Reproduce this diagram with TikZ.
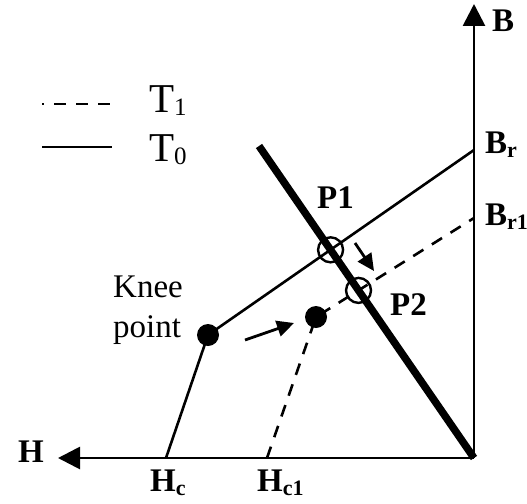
\documentclass[tikz,border=0pt]{standalone}
\usepackage{fontspec}
\setmainfont{Liberation Serif}
\usetikzlibrary{arrows.meta}
\newcommand{\lsub}[1]{\raisebox{-4pt}{\fontsize{22}{22}\selectfont #1}}
\newcommand{\tsub}[1]{\raisebox{-3pt}{\fontsize{25}{25}\selectfont #1}}
\tikzset{
  lab/.style={font=\fontsize{33}{34}\selectfont\bfseries, inner sep=0pt, anchor=base west},
  leg/.style={font=\fontsize{41}{42}\selectfont, inner sep=0pt, anchor=base west},
  thinline/.style={line width=2.6pt},
  dashline/.style={line width=2.6pt, dash pattern=on 12pt off 10pt},
  axis/.style={line width=2.8pt, -{Triangle[length=22pt,width=22pt]}},
  shiftarr/.style={line width=2.8pt, -{Triangle[length=17pt,width=16pt]}},
  kneedot/.style={circle, fill, inner sep=0pt, minimum size=22pt},
  opring/.style={circle, draw, line width=2.4pt, inner sep=0pt, minimum size=25pt},
}
\begin{document}
\begin{tikzpicture}[x=1pt,y=-1pt]
\useasboundingbox (0,0) rectangle (527,503);
% punti
\coordinate (O) at (474,458);
\coordinate (Btop) at (474,4);
\coordinate (Hend) at (58,458);
\coordinate (Br) at (474,150);
\coordinate (Br1) at (474,218);
\coordinate (Hc) at (166,458);
\coordinate (Hc1) at (267,458);
\coordinate (k0) at (208,335);
\coordinate (k1) at (316,317);
\coordinate (L1) at (259,146);
% assi
\draw[axis] (O) -- (Btop);
\draw[axis] (O) -- (Hend);
\node[lab] (B) at (492,32) {B};
\node[lab] (H) at (18,462) {H};
\node[lab] (lHc) at (150,491) {H\lsub{c}};
\node[lab] (lHc1) at (257,491) {H\lsub{c1}};
\node[lab] (lBr) at (485,153) {B\lsub{r}};
\node[lab] (lBr1) at (485,225) {B\lsub{r1}};
% curve T0 e T1
\draw[thinline] (Hc) -- (k0) -- (Br);
\draw[dashline] (Hc1) -- (k1) -- (Br1);
\node[kneedot] (K0) at (k0) {};
\node[kneedot] (K1) at (k1) {};
\node[font=\fontsize{33}{40}\selectfont, align=left, inner sep=0pt, anchor=west] (kt) at (113,310) {Knee\\point};
% retta di carico
\draw[line width=7.5pt] (L1) -- (O);
\coordinate (P1) at (intersection of L1--O and k0--Br);
\coordinate (P2) at (intersection of L1--O and k1--Br1);
\node[opring] (C1) at (P1) {};
\node[opring] (C2) at (P2) {};
\node[lab] (lP1) at (317,208) {P1};
\node[lab] (lP2) at (390,315) {P2};
% spostamenti
\coordinate (a1) at (355,243);
\coordinate (a2) at (374,271);
\coordinate (b1) at (245,340);
\coordinate (b2) at (294,323);
\draw[shiftarr] (a1) -- (a2);
\draw[shiftarr] (b1) -- (b2);
% legenda
\coordinate (d1) at (42,104);
\coordinate (d2) at (112,104);
\coordinate (s1) at (42,147);
\coordinate (s2) at (112,147);
\draw[dashline, dash phase=10pt] (d1) -- (d2);
\draw[thinline] (s1) -- (s2);
\node[leg] (T1) at (149,112) {T\tsub{1}};
\node[leg] (T0) at (149,161) {T\tsub{0}};
\end{tikzpicture}
\end{document}
